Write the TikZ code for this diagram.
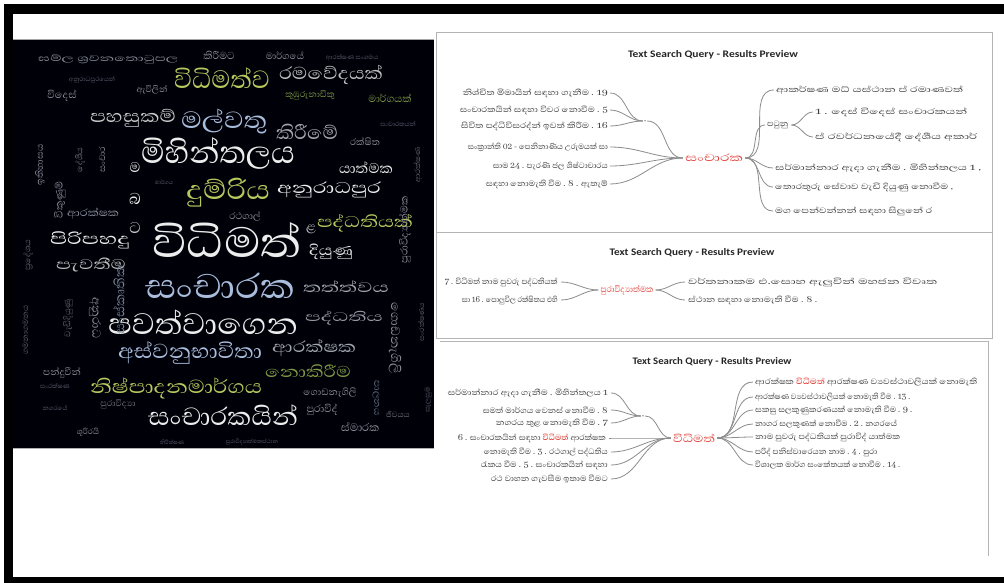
\documentclass[tikz,border=0pt]{standalone}
\usepackage{fontspec}
\newfontfamily\sifont[Script=Sinhala]{Abhaya Libre}
\newfontfamily\ttlfont{Carlito}
\definecolor{wcwhite}{HTML}{EDEDED}
\definecolor{wcblue}{HTML}{A9BEDD}
\definecolor{wcyg}{HTML}{B9C85E}
\definecolor{wcgray}{HTML}{8A909C}
\definecolor{wcdim}{HTML}{5A6070}
\definecolor{wcgreen}{HTML}{7F9A46}
\definecolor{txt}{HTML}{3C3C3C}
\definecolor{hl}{HTML}{E0443C}
\definecolor{conn}{HTML}{8C8C8C}
\definecolor{panel}{HTML}{B4B4B4}
\newsavebox\fitbox
\newcommand{\fitw}[2]{\sbox\fitbox{#2}\pgfmathsetmacro\fitr{#1/\the\wd\fitbox}\scalebox{\fitr}[1]{\usebox\fitbox}}
\tikzset{
  wc/.style={inner sep=0pt, font=\sifont},
  lt/.style={anchor=east, inner sep=0pt, text=txt, font=\sifont\fontsize{10}{12}\selectfont},
  rt/.style={anchor=west, inner sep=0pt, text=txt, font=\sifont\fontsize{10}{12}\selectfont},
  hub/.style={inner sep=1pt, text=txt, font=\sifont\fontsize{10}{12}\selectfont},
  cen/.style={inner sep=2pt, text=hl, font=\sifont\fontsize{13}{15}\selectfont},
  title/.style={inner sep=0pt, font=\ttlfont\bfseries\fontsize{10}{12}\selectfont, text=black!85},
  cn/.style={draw=conn, line width=0.8pt},
  pbox/.style={draw=panel, line width=1pt}
}
\newcommand{\hw}[1]{{\bfseries\color{hl}#1}}
\newcommand{\sz}[1]{\fontsize{#1}{#1}\selectfont}
\begin{document}
\begin{tikzpicture}[x=1pt,y=-1pt]
\useasboundingbox (0,0) rectangle (1004,583);
\fill[white] (0,0) rectangle (1004,583);
% outer frame
\fill[black] (4,4) rectangle (1004,14);
\fill[black] (4,4) rectangle (13,583);
\fill[black] (4,577) rectangle (1004,583);
% word cloud
\fill[black!97!blue] (13,39) rectangle (434,448);
\draw[gray!70, line width=0.6pt] (13,39) -- (434,39);
\begin{scope}
\clip (13,39) rectangle (434,448);
\node[wc, text=wcwhite, font=\sifont\sz{54}] (w1) at (227,240) {\fitw{150}{විධිමත්}};
\node[wc, text=wcblue, font=\sifont\sz{44}] (w2) at (220,286) {\fitw{150}{සංචාරක}};
\node[wc, text=wcwhite, font=\sifont\sz{38}] (w3) at (203,322) {\fitw{190}{පවත්වාගෙන}};
\node[wc, text=wcwhite, font=\sifont\sz{40}] (w4) at (218,153) {\fitw{154}{මිහින්තලය}};
\node[wc, text=wcyg, font=\sifont\sz{34}] (w5) at (228,193) {\fitw{84}{දුම්රිය}};
\node[wc, text=wcyg, font=\sifont\sz{32}] (w6) at (222,78) {\fitw{96}{විධිමත්ව}};
\node[wc, text=wcblue, font=\sifont\sz{30}] (w7) at (224,122) {\fitw{86}{මල්වතු}};
\node[wc, text=wcwhite!85!black, font=\sifont\sz{22}] (w8) at (133,118) {\fitw{86}{පහසුකම්}};
\node[wc, text=wcgray!80!white, font=\sifont\sz{24}] (w9) at (307,132) {\fitw{62}{කිරීමේ}};
\node[wc, text=wcwhite!80!black, font=\sifont\sz{22}] (w10) at (331,75) {\fitw{104}{රමවේදයක්}};
\node[wc, text=wcwhite, font=\sifont\sz{18}] (w11) at (366,168) {\fitw{54}{යාත්මක}};
\node[wc, text=wcwhite, font=\sifont\sz{20}] (w12) at (329,190) {\fitw{104}{අනුරාධපුර}};
\node[wc, text=wcyg, font=\sifont\sz{20}] (w13) at (365,223) {\fitw{96}{පද්ධතියක්}};
\node[wc, text=wcwhite, font=\sifont\sz{18}] (w14) at (331,252) {\fitw{44}{දියුණු}};
\node[wc, text=wcgray!80!white, font=\sifont\sz{18}] (w15) at (346,287) {\fitw{86}{තත්ත්වය}};
\node[wc, text=wcgray!90!white, font=\sifont\sz{16}] (w16) at (344,318) {\fitw{78}{පද්ධතිය}};
\node[wc, text=wcblue, font=\sifont\sz{26}] (w17) at (190,353) {\fitw{144}{අස්වනුභාවිතා}};
\node[wc, text=wcgray!80!white, font=\sifont\sz{20}] (w18) at (314,348) {\fitw{84}{ආරක්ෂක}};
\node[wc, text=wcgreen, font=\sifont\sz{20}] (w19) at (308,371) {\fitw{86}{නොකිරීම}};
\node[wc, text=wcyg, font=\sifont\sz{24}] (w20) at (176,388) {\fitw{172}{නිෂ්පාදනමාර්ගය}};
\node[wc, text=wcwhite, font=\sifont\sz{32}] (w21) at (223,415) {\fitw{150}{සංචාරකයින්}};
\node[wc, text=wcwhite, font=\sifont\sz{20}] (w22) at (90,240) {\fitw{80}{පිරිපහදු}};
\node[wc, text=wcwhite!80!black, font=\sifont\sz{18}] (w23) at (91,265) {\fitw{70}{පැවතීම}};
\node[wc, text=wcgray, font=\sifont\sz{13}] (w24) at (93,214) {\fitw{52}{ආරක්ෂක}};
\node[wc, text=wcgray, font=\sifont\sz{13}] (w25) at (62,96) {විදෙස්};
\node[wc, text=wcgray, font=\sifont\sz{11}] (w26) at (108,59) {\fitw{140}{ඝම්ල ශ්‍රවනතොටුපල}};
\node[wc, text=wcgray, font=\sifont\sz{13}] (w27) at (219,55) {කිරීමට};
\node[wc, text=wcgray, font=\sifont\sz{12}] (w28) at (285,56) {මාර්ගයේ};
\node[wc, text=wcgreen, font=\sifont\sz{13}] (w29) at (390,98) {මාර්ගයක්};
\node[wc, text=wcgray, font=\sifont\sz{12}] (w30) at (365,142) {රක්ෂිත};
\node[wc, text=wcgray, font=\sifont\sz{12}] (w31) at (62,373) {පන්දුවීන්};
\node[wc, text=wcgray, font=\sifont\sz{14}] (w32) at (360,427) {ස්මාරක};
\node[wc, text=wcgray, font=\sifont\sz{13}] (w33) at (322,410) {පුරාවිද්};
\node[wc, text=wcgray, font=\sifont\sz{12}] (w34) at (330,393) {ගොඩනැගිලි};
\node[wc, text=wcwhite, font=\sifont\sz{20}] (w35) at (135,199) {බ};
\node[wc, text=wcwhite, font=\sifont\sz{18}] (w36) at (135,167) {ම};
\node[wc, text=wcwhite!80!black, font=\sifont\sz{16}] (w37) at (311,229) {ළ};
\node[wc, text=wcgray, font=\sifont\sz{11}] (w38) at (152,90) {ඇවිලින්};
\node[wc, text=wcgreen, font=\sifont\sz{11}] (w39) at (310,95) {කුඹුරුනාඩිකු};
\node[wc, text=wcdim, font=\sifont\sz{8}] (w40) at (352,58) {ආරක්ෂණ සංගමය};
\node[wc, text=wcdim, font=\sifont\sz{8}] (w41) at (92,80) {අනුරාධපුරයෙන්};
\node[wc, text=wcdim, font=\sifont\sz{8}] (w42) at (398,124) {සංචාරකයන්};
\node[wc, text=wcdim, font=\sifont\sz{7}] (w43) at (164,182) {මාර්ගය};
\node[wc, text=wcgray, font=\sifont\sz{12}] (w44) at (245,216) {රථගාල්};
\node[wc, text=wcdim, font=\sifont\sz{8}] (w45) at (55,408) {නගරයේ};
\node[wc, text=wcgray!80!black, font=\sifont\sz{11}] (w46) at (118,404) {පුරාවිද්‍යා};
\node[wc, text=wcdim, font=\sifont\sz{7}] (w47) at (252,442) {පුරාවිද්‍යාත්මකස්ථාන};
\node[wc, text=wcgray, font=\sifont\sz{10}] (w48) at (88,432) {ශූරිරයි};
\node[wc, text=wcdim, font=\sifont\sz{7}] (w49) at (172,442) {නිරීක්ෂණ};
\node[wc, text=wcwhite!85!black, font=\sifont\sz{20}] (w50) at (135,228) {ට};
\node[wc, text=wcdim, font=\sifont\sz{8}] (w52) at (55,386) {සංරක්ෂණ};
\node[wc, text=wcgray!80!black, font=\sifont\sz{10}] (w53) at (398,414) {ජීවයය};
% vertical words
\node[wc, text=wcgray, font=\sifont\sz{13}, rotate=90] (v1) at (405,230) {පුරාවිද්‍යාත්මක};
\node[wc, text=wcgray, font=\sifont\sz{16}, rotate=-90] (v2) at (395,338) {ගොඩනැගිලි};
\node[wc, text=wcgray!70!black, font=\sifont\sz{9}, rotate=90] (v3) at (421,322) {සංරක්ෂණය};
\node[wc, text=wcgray, font=\sifont\sz{12}, rotate=90] (v4) at (40,165) {ඉතිහාසය};
\node[wc, text=wcgray, font=\sifont\sz{13}, rotate=90] (v5) at (60,200) {විකුණුම්};
\node[wc, text=wcgray!70!black, font=\sifont\sz{11}, rotate=90] (v6) at (28,255) {ප්‍රදේශය};
\node[wc, text=wcgray, font=\sifont\sz{15}, rotate=-90] (v7) at (95,318) {අනුරාධ};
\node[wc, text=wcgray!70!black, font=\sifont\sz{11}, rotate=90] (v8) at (68,318) {වැඩිදියුණු};
\node[wc, text=wcblue!70!black, font=\sifont\sz{17}, rotate=90] (v9) at (119,300) {සංස්කෘතික};
\node[wc, text=wcgray!70!black, font=\sifont\sz{10}, rotate=90] (v10) at (418,165) {ආරක්ෂණ};
\node[wc, text=wcgray, font=\sifont\sz{11}, rotate=90] (v11) at (102,160) {සංචාර};
\node[wc, text=wcdim, font=\sifont\sz{9}, rotate=90] (v12) at (428,400) {සැලසුම};
\node[wc, text=wcblue!60!black, font=\sifont\sz{12}, rotate=-90] (v13) at (376,398) {පාලනය};
\node[wc, text=wcgray!80!black, font=\sifont\sz{11}, rotate=90] (v14) at (80,160) {දේශීය};
\node[wc, text=wcgray!70!black, font=\sifont\sz{10}, rotate=90] (v15) at (25,330) {ගමනාගමනය};
\end{scope}
\draw[gray!60, line width=0.6pt] (13,448) -- (434,448);

% panels
\draw[pbox] (436,33) rectangle (992,232);
\draw[pbox] (436,232) rectangle (992,338);
\draw[pbox] (440,341) -- (988,341) -- (988,556);

% ---------- Panel 1 ----------
\node[title] (t1) at (713,55) {\fitw{170}{Text Search Query - Results Preview}};
\node[cen] (c1) at (714,158) {\fitw{58}{සංචාරක}};
\node[hub] (h1) at (645,121) {,};
\node[lt] (a1) at (608,93) {\fitw{145}{නිශ්චිත මිමායින් සඳහා ගැනීම . 19}};
\node[lt] (a2) at (608,110) {\fitw{148}{සංචාරකයින් සඳහා විවර නොවීම . 5}};
\node[lt] (a3) at (608,126) {\fitw{147}{සිවිත පද්ධිවිසරද්න් ඉවත් කිරීම . 16}};
\node[lt] (a4) at (608,147) {\fitw{140}{සංක්‍රාන්ති 02 - පෙනිනාණිය උරුමයක් සා}};
\node[lt] (a5) at (608,166) {\fitw{115}{සාම 24 . පැරණි ජල ශිෂ්ටාචාරය}};
\node[lt] (a6) at (608,184) {\fitw{122}{සඳහා නොමැති වීම . 8 . ඇතැම්}};
\node[rt] (b1) at (776,90) {\fitw{187}{ආකර්ෂණ මධ් යස්ථාන ප් රමාණවත්}};
\node[rt] (b2) at (767,125) {\fitw{21}{පටුනු}};
\node[rt] (b2a) at (815,112) {\fitw{152}{1 . දෙස් විදෙස් සංචාරකයන්}};
\node[rt] (b2b) at (815,137) {\fitw{162}{ප් රවර්ධනයේදී දේශීය අකාර්}};
\node[rt] (b3) at (775,168) {\fitw{206}{සර්මාන්නාර ඇදා ගැනීම . මිහින්තලය 1 ,}};
\node[rt] (b4) at (775,187) {\fitw{178}{තොරතුරු සේවාව වැඩි දියුණු නොවීම ,}};
\node[rt] (b5) at (775,211) {\fitw{157}{මග පෙන්වන්නන් සඳහා සිලුනේ ර}};
\foreach \n in {a1,a2,a3} \draw[cn] ([xshift=2pt]\n.east) to[out=0,in=180] (h1.west);
\draw[cn] (h1.east) to[out=0,in=180] (c1.west);
\foreach \n in {a4,a5,a6} \draw[cn] ([xshift=2pt]\n.east) to[out=0,in=180] (c1.west);
\foreach \n in {b1,b2,b3,b4,b5} \draw[cn] (c1.east) to[out=0,in=180] ([xshift=-2pt]\n.west);
\foreach \n in {b2a,b2b} \draw[cn] ([xshift=3pt]b2.east) to[out=0,in=180] ([xshift=-2pt]\n.west);

% ---------- Panel 2 ----------
\node[title] (t2) at (692,253) {\fitw{165}{Text Search Query - Results Preview}};
\node[cen, font=\sifont\fontsize{11}{13}\selectfont] (c2) at (627,290) {\fitw{53}{පුරාවිද්‍යාත්මක}};
\node[lt] (d1) at (558,282) {\fitw{113}{7 . විධිමත් නාම පුවරු පද්ධතියක්}};
\node[lt] (d2) at (558,300) {\fitw{96}{සා 16 . පොලුවිල රක්ෂිතය එහි}};
\node[rt] (e1) at (688,282) {\fitw{249}{වර්තනාකම එ.සොහ ඇලුවින් මහජන විවෘත}};
\node[rt] (e2) at (688,300) {\fitw{129}{ස්ථාන සඳහා නොමැති වීම . 8 .}};
\foreach \n in {d1,d2} \draw[cn] ([xshift=3pt]\n.east) to[out=0,in=180] (c2.west);
\foreach \n in {e1,e2} \draw[cn] (c2.east) to[out=0,in=180] ([xshift=-3pt]\n.west);

% ---------- Panel 3 ----------
\node[title] (t3) at (712,362) {\fitw{159}{Text Search Query - Results Preview}};
\node[cen] (c3) at (694,438) {\fitw{42}{විධිමත්}};
\node[hub] (h3) at (643,416) {,};
\node[lt] (f1) at (608,393) {\fitw{160}{සර්මාන්නාර ඇදා ගැනීම . මිහින්තලය 1}};
\node[lt] (f2) at (608,410) {\fitw{125}{සමත් මාර්ගය වෙනස් නොවීම . 8}};
\node[lt] (f3) at (608,423) {\fitw{112}{නගරය තුළ නොමැති වීම . 7}};
\node[lt] (f4) at (606,438) {\fitw{148}{6 . සංචාරකයින් සඳහා \hw{විධිමත්} ආරක්ෂක}};
\node[lt] (f5) at (608,452) {\fitw{124}{නොමැති වීම . 3 . රථගාල් පද්ධතිය}};
\node[lt] (f6) at (608,465) {\fitw{127}{රැකය වීම . 5 . සංචාරකයින් සඳහා}};
\node[lt] (f7) at (608,479) {\fitw{117}{රථ වාහන ගැවසීම ඉතාම වීමට}};
\node[rt] (g1) at (755,382) {\fitw{222}{ආරක්ෂක \hw{විධිමත්} ආරක්ෂණ ව්‍යවස්ථාවලියක් නොමැති}};
\node[rt] (g2) at (755,397) {\fitw{155}{ආරක්ෂණ ව්‍යවස්ථාවලියක් නොමැති වීම . 13 .}};
\node[rt] (g3) at (755,410) {\fitw{157}{සකසු සලකුණුකරණයක් නොමැති වීම . 9 .}};
\node[rt] (g4) at (755,424) {\fitw{142}{නාගර සලකුණක් නොවීම . 2 . නගරයේ}};
\node[rt] (g5) at (755,437) {\fitw{145}{නාම පුවරු පද්ධතියක් පුරාවිද් යාත්මක}};
\node[rt] (g6) at (755,452) {\fitw{122}{පරිද් පනිස්වාරෙයන නාම . 4 . පුරා}};
\node[rt] (g7) at (755,465) {\fitw{145}{විශාලක මාර්ග සංකේතයක් නොවීම . 14 .}};
\foreach \n in {f1,f2,f3} \draw[cn] ([xshift=3pt]\n.east) to[out=0,in=180] (h3.west);
\draw[cn] (h3.east) to[out=0,in=180] (c3.west);
\foreach \n in {f4,f5,f6,f7} \draw[cn] ([xshift=3pt]\n.east) to[out=0,in=180] (c3.west);
\foreach \n in {g1,g2,g3,g4,g5,g6,g7} \draw[cn] (c3.east) to[out=0,in=180] ([xshift=-2pt]\n.west);
\end{tikzpicture}
\end{document}
